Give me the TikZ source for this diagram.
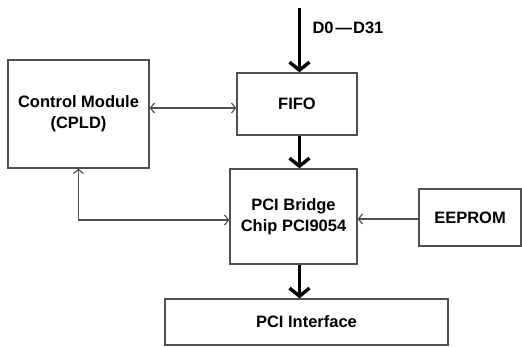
\documentclass[tikz,border=0pt]{standalone}
\usepackage{fontspec}
\setmainfont{Liberation Sans}
\usetikzlibrary{arrows.meta,positioning}
\definecolor{boxgray}{HTML}{505050}

\begin{document}
\begin{tikzpicture}[x=1pt,y=-1pt,
    blk/.style={draw=boxgray, line width=1.4pt, align=center, inner sep=0pt,
      font=\bfseries\fontsize{16.5}{21}\selectfont},
    bus/.style={line width=3.4pt, -{Straight Barb[length=8pt,width=20pt,line width=3.4pt]}},
    sig/.style={draw=boxgray, line width=1.2pt, -{Straight Barb[length=4pt,width=10pt]}},
    sigsig/.style={sig, {Straight Barb[length=4pt,width=10pt]}-{Straight Barb[length=4pt,width=10pt]}}]
        \useasboundingbox (0,0) rectangle (522,346);

        \node[blk, minimum width=141pt, minimum height=108pt] (ctrl) at (78.5,114) {Control Module\\(CPLD)};
        \node[blk, minimum width=120pt, minimum height=62pt] (fifo) at (297,104) {FIFO};
        \node[blk, minimum width=127pt, minimum height=95pt] (bridge) at (293.5,216.5) {PCI Bridge\\Chip PCI9054};
        \node[blk, minimum width=102pt, minimum height=57pt] (eeprom) at (470,217.5) {EEPROM};
        \node[blk, minimum width=283pt, minimum height=46pt] (pciif) at (306.5,322) {PCI Interface};

        \coordinate (bus) at (299.5,8);
        \node[font=\bfseries\fontsize{16.5}{18}\selectfont] (dlabel) at (348,28) {D0\kern2pt—\kern1pt D31};

        % data path
        \draw[bus] (bus) -- (bus |- fifo.north);
        \draw[bus] (bus |- fifo.south) -- (bus |- bridge.north);
        \draw[bus] (bus |- bridge.south) -- (bus |- pciif.north);

        % control lines
        \draw[sigsig] (ctrl.east |- 0,108) -- (fifo.west |- 0,108);
        \draw[sigsig] (ctrl.south) |- ([yshift=-3.5pt]bridge.west);
        \draw[sig] (eeprom.west |- 0,219) -- (bridge.east |- 0,219);
    \end{tikzpicture}
\end{document}
